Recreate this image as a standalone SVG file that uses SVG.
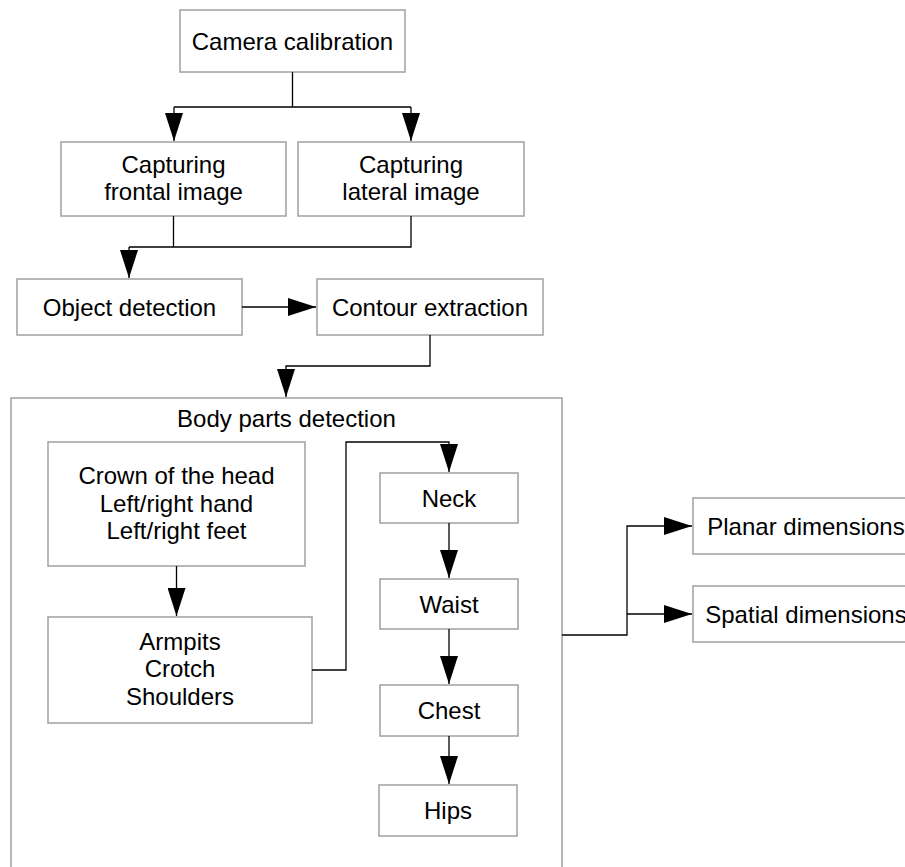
<svg xmlns="http://www.w3.org/2000/svg" width="905" height="867" viewBox="0 0 905 867">
<style>
.box{fill:#fff;stroke:#a0a0a0;stroke-width:1.5}
.t{font-family:"Liberation Sans",Arial,sans-serif;font-size:24px;fill:#000;text-anchor:middle}
.c{fill:none;stroke:#000;stroke-width:1.3}
</style>
<defs>
<marker id="ah" markerUnits="userSpaceOnUse" markerWidth="28" markerHeight="18" refX="28" refY="9" orient="auto">
<path d="M0,0 L28,9 L0,18 z" fill="#000"/>
</marker>
</defs>
<rect width="905" height="867" fill="#fff"/>
<g id="body-parts-detection">
<rect class="box" x="11" y="398" width="551" height="480"/>
<text class="t" x="286.5" y="427">Body parts detection</text>
</g>
<g id="camera-calibration">
<rect class="box" x="180" y="10" width="225" height="62"/>
<text class="t" x="292.5" y="50">Camera calibration</text>
</g>
<g id="capturing-frontal">
<rect class="box" x="61" y="142" width="225" height="74"/>
<text class="t" x="173.5" y="173">Capturing</text>
<text class="t" x="173.5" y="200">frontal image</text>
</g>
<g id="capturing-lateral">
<rect class="box" x="298" y="142" width="226" height="74"/>
<text class="t" x="411" y="173">Capturing</text>
<text class="t" x="411" y="200">lateral image</text>
</g>
<g id="object-detection">
<rect class="box" x="17" y="279" width="225" height="56"/>
<text class="t" x="129.5" y="315.5">Object detection</text>
</g>
<g id="contour-extraction">
<rect class="box" x="317" y="279" width="226" height="56"/>
<text class="t" x="430" y="315.5">Contour extraction</text>
</g>
<g id="crown">
<rect class="box" x="48" y="442" width="257" height="124"/>
<text class="t" x="176.5" y="484">Crown of the head</text>
<text class="t" x="176.5" y="512">Left/right hand</text>
<text class="t" x="176.5" y="539">Left/right feet</text>
</g>
<g id="armpits">
<rect class="box" x="48" y="617" width="264" height="106"/>
<text class="t" x="180" y="650">Armpits</text>
<text class="t" x="180" y="677">Crotch</text>
<text class="t" x="180" y="705">Shoulders</text>
</g>
<g id="neck">
<rect class="box" x="380" y="473" width="138" height="50"/>
<text class="t" x="449" y="506.5">Neck</text>
</g>
<g id="waist">
<rect class="box" x="380" y="579" width="138" height="50"/>
<text class="t" x="449" y="612.5">Waist</text>
</g>
<g id="chest">
<rect class="box" x="380" y="685" width="138" height="51"/>
<text class="t" x="449" y="719">Chest</text>
</g>
<g id="hips">
<rect class="box" x="379" y="785" width="138" height="51"/>
<text class="t" x="448" y="819">Hips</text>
</g>
<g id="planar-dimensions">
<rect class="box" x="693" y="498" width="226" height="56"/>
<text class="t" x="806" y="534.5">Planar dimensions</text>
</g>
<g id="spatial-dimensions">
<rect class="box" x="693" y="586" width="226" height="56"/>
<text class="t" x="806" y="622.5">Spatial dimensions</text>
</g>
<g id="connectors">
<path class="c" d="M292.5,72 V107 M174,107 H411"/>
<path class="c" d="M174,107 V141" marker-end="url(#ah)"/>
<path class="c" d="M411,107 V141" marker-end="url(#ah)"/>
<path class="c" d="M173.5,216 V247 M411,216 V247 H129"/>
<path class="c" d="M129,247 V278" marker-end="url(#ah)"/>
<path class="c" d="M242,307 H316" marker-end="url(#ah)"/>
<path class="c" d="M430,335 V366 H286 V397" marker-end="url(#ah)"/>
<path class="c" d="M176.5,566 V616" marker-end="url(#ah)"/>
<path class="c" d="M312,670 H346 V442 H449 V472" marker-end="url(#ah)"/>
<path class="c" d="M449,523 V578" marker-end="url(#ah)" stroke="#555"/>
<path class="c" d="M449,629 V684" marker-end="url(#ah)" stroke="#555"/>
<path class="c" d="M449,736 V784" marker-end="url(#ah)" stroke="#555"/>
<path class="c" d="M562,635 H627 V526 H692" marker-end="url(#ah)"/>
<path class="c" d="M627,614 H692" marker-end="url(#ah)"/>
</g>
</svg>
